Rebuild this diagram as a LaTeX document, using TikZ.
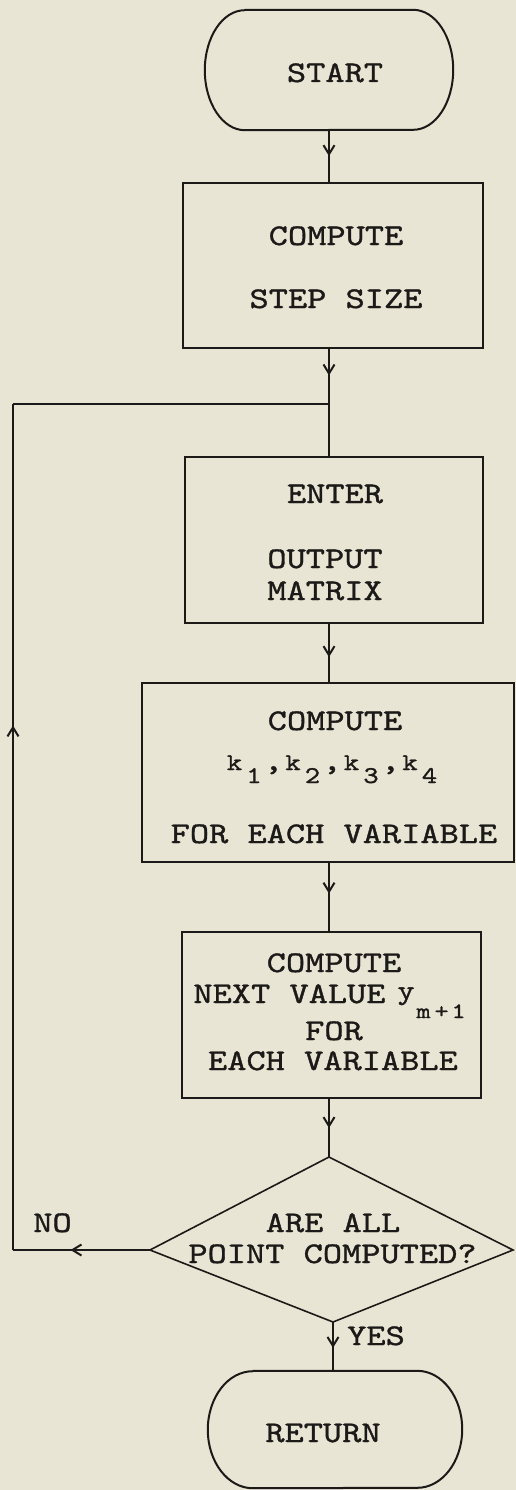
\documentclass[tikz,border=0pt]{standalone}
\usepackage{fontspec}
\newfontfamily\typer[FakeStretch=1.22,FakeBold=1.2]{lmmono10-regular.otf}
\usetikzlibrary{arrows.meta,decorations.markings,calc}

\definecolor{paper}{RGB}{233,229,212}
\definecolor{ink}{RGB}{28,26,24}

% one typewriter cell
\newcommand\cellbox[1]{\makebox[19.5pt]{#1}}

% terminal outline with elliptic ends: node, end x radius, half height
\newcommand\terminal[3]{%
  \draw[outline] ([xshift=#2pt]#1.north west) -- ([xshift=-#2pt]#1.north east)
    arc[start angle=-90,end angle=90,x radius=#2,y radius=#3]
    -- ([xshift=#2pt]#1.south west)
    arc[start angle=90,end angle=270,x radius=#2,y radius=#3] -- cycle;}

\tikzset{
  outline/.style={draw=ink, line width=2pt, line join=round},
  frame/.style={shape=rectangle, inner sep=0pt},
  stepbox/.style={frame, draw=ink, line width=2pt},
  flow/.style={draw=ink, line width=2pt},
  txt/.style={anchor=base, inner sep=0pt, text=ink,
              font=\typer\fontsize{30}{30}\selectfont},
  midarrow/.style={postaction={decorate},
    decoration={markings, mark=at position #1 with
      {\arrow{Straight Barb[length=9pt,width=11pt]}}}}
}

\begin{document}
\begin{tikzpicture}[x=1pt,y=-1pt]
\fill[paper] (0,0) rectangle (516,1490);
\useasboundingbox (0,0) rectangle (516,1490);

% terminals and process boxes
\node[frame, minimum width=248pt, minimum height=120pt] (start) at (329,70) {};
\terminal{start}{40}{60}
\node[stepbox, minimum width=300pt, minimum height=165pt] (box1) at (333,265.5) {};
\node[stepbox, minimum width=298pt, minimum height=166pt] (box2) at (334,540) {};
\node[stepbox, minimum width=372pt, minimum height=179pt] (box3) at (328,772.5) {};
\node[stepbox, minimum width=299pt, minimum height=166pt] (box4) at (331.5,1015) {};
\node[frame, minimum width=254pt, minimum height=117pt] (return) at (335,1429.5) {};
\terminal{return}{45}{58.5}

% decision
\coordinate (dT) at (329,1157);
\coordinate (dR) at (513,1250);
\coordinate (dB) at (333,1322);
\coordinate (dL) at (150,1250);
\draw[draw=ink, line width=1.6pt, line join=miter] (dT) -- (dR) -- (dB) -- (dL) -- cycle;

% loop-back corners
\coordinate (junc) at (329,404);
\coordinate (lc) at (13,404);
\coordinate (nc) at (13,1250);

% texts
\node[txt] (tstart) at (335,82) {START};
\node[txt] (t1a) at (336,245) {COMPUTE};
\node[txt] (t1b) at (336,308) {STEP SIZE};
\node[txt] (t2a) at (335,503) {ENTER};
\node[txt] (t2b) at (325,568) {OUTPUT};
\node[txt] (t2c) at (325,600) {MATRIX};
\node[txt] (t3a) at (335,730) {COMPUTE};
\node[txt, font=\typer\fontsize{24}{24}\selectfont] (t3b) at (332,770)
  {\cellbox{k}\cellbox{\raisebox{-13pt}{1}}\cellbox{\fontsize{30}{30}\selectfont,}%
   \cellbox{k}\cellbox{\raisebox{-13pt}{2}}\cellbox{\fontsize{30}{30}\selectfont,}%
   \cellbox{k}\cellbox{\raisebox{-13pt}{3}}\cellbox{\fontsize{30}{30}\selectfont,}%
   \cellbox{k}\cellbox{\raisebox{-13pt}{4}}};
\node[txt] (t3c) at (334,843) {FOR EACH VARIABLE};
\node[txt] (t4a) at (334,972) {COMPUTE};
\node[txt] (t4b) at (330,1003)
  {NEXT VALUE\hspace{12pt}\makebox[17pt]{\raisebox{4pt}{\fontsize{27}{27}\selectfont y}}%
   \raisebox{-15pt}{\fontsize{22}{22}\selectfont\makebox[18pt]{m}\makebox[18pt]{+}\makebox[16pt]{1}}};
\node[txt] (t4c) at (334,1040) {FOR};
\node[txt] (t4d) at (333,1070) {EACH VARIABLE};
\node[txt] (tda) at (333,1232) {ARE ALL};
\node[txt] (tdb) at (332.5,1263) {POINT COMPUTED?};
\node[txt] (tno) at (52.5,1232) {NO};
\node[txt, anchor=base west] (tyes) at (347,1345) {YES};
\node[txt] (tret) at (323,1442) {RETURN};

% connectors
\draw[flow, midarrow=0.5] (start.south -| junc) -- (box1.north -| junc);
\draw[flow, midarrow=0.48] (box1.south -| junc) -- (junc);
\draw[flow] (junc) -- (box2.north -| junc);
\draw[flow, midarrow=0.57] (box2.south -| junc) -- (box3.north -| junc);
\draw[flow, midarrow=0.45] (box3.south -| junc) -- (box4.north -| junc);
\draw[flow, midarrow=0.5] (box4.south -| junc) -- (dT);
\draw[flow, midarrow=0.58] (dL) -- (nc);
\draw[flow, midarrow=0.62] (nc) -- (lc);
\draw[flow] (lc) -- (junc);
\draw[flow, midarrow=0.53] (dB) -- (dB |- return.north);
\end{tikzpicture}
\end{document}
